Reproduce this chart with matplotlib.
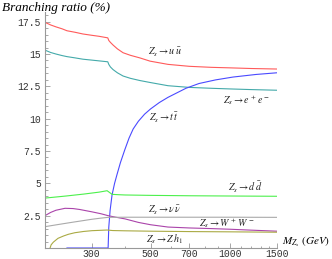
import numpy as np
import matplotlib
matplotlib.use("Agg")
import matplotlib.pyplot as plt
from matplotlib.ticker import FixedLocator, NullFormatter

plt.rcParams['mathtext.fontset'] = 'stix'

# Z_s mass (GeV) and branching ratios (%)
m_uu = [200, 210, 220, 232, 242, 260, 278, 300, 320, 345, 348, 353, 361, 375, 394, 420, 456, 498, 582, 700, 850, 1000, 1200, 1500]
br_uu = [17.45, 17.25, 17.1, 16.95, 16.8, 16.68, 16.55, 16.45, 16.37, 16.25, 16.05, 15.9, 15.7, 15.4, 15.1, 14.9, 14.7, 14.45, 14.2, 14.05, 13.97, 13.93, 13.88, 13.84]

m_ee = [200, 210, 220, 232, 242, 260, 278, 300, 320, 345, 348, 353, 361, 375, 394, 420, 456, 498, 582, 700, 850, 1000, 1200, 1500]
br_ee = [15.3, 15.12, 15.0, 14.88, 14.8, 14.7, 14.6, 14.53, 14.47, 14.4, 14.2, 14.0, 13.8, 13.55, 13.3, 13.12, 12.95, 12.8, 12.55, 12.42, 12.35, 12.3, 12.25, 12.2]

m_tt = [242, 300, 346, 348, 352, 358, 366, 374, 385, 400, 415, 430, 450, 475, 500, 540, 582, 680, 762, 880, 1024, 1250, 1500]
br_tt = [0.0, 0.0, 0.0, 1.6, 2.9, 4.1, 5.0, 5.7, 6.6, 7.6, 8.5, 9.2, 9.8, 10.35, 10.75, 11.25, 11.65, 12.35, 12.72, 13.0, 13.22, 13.42, 13.55]

m_dd = [200, 240, 280, 320, 343, 350, 358, 380, 401, 500, 700, 1000, 1500]
br_dd = [3.86, 4.02, 4.17, 4.32, 4.43, 4.3, 4.15, 4.12, 4.1, 4.07, 4.04, 4.02, 4.0]

m_nn = [200, 210, 220, 238, 255, 270, 300, 325, 346, 370, 401, 450, 500, 582, 700, 850, 1000, 1200, 1500]
br_nn = [2.5, 2.75, 2.92, 3.07, 3.05, 2.98, 2.8, 2.65, 2.5, 2.38, 2.25, 1.98, 1.8, 1.62, 1.55, 1.5, 1.45, 1.38, 1.3]

m_ww = [200, 225, 250, 275, 300, 325, 346, 400, 600, 1000, 1500]
br_ww = [1.65, 1.82, 1.97, 2.1, 2.22, 2.31, 2.37, 2.38, 2.38, 2.38, 2.37]

m_zh = [209, 211, 215, 220, 224, 235, 245, 259, 280, 301, 343, 360, 400, 500, 700, 1000, 1500]
br_zh = [0.0, 0.25, 0.45, 0.62, 0.75, 0.93, 1.06, 1.18, 1.28, 1.34, 1.39, 1.35, 1.33, 1.3, 1.27, 1.25, 1.22]

curves = [
    (m_uu, br_uu, '#ff5a5a'),
    (m_ee, br_ee, '#44aaaa'),
    (m_tt, br_tt, '#4a4aff'),
    (m_dd, br_dd, '#4cf04c'),
    (m_nn, br_nn, '#aa44aa'),
    (m_ww, br_ww, '#aaaaaa'),
    (m_zh, br_zh, '#aaaa44'),
]

labels = [
    (568, 15.16, r'$Z_s \rightarrow u\,\bar{u}$'),
    (1156, 11.45, r'$Z_s \rightarrow e^+\,e^-$'),
    (560, 10.05, r'$Z_s \rightarrow t\,\bar{t}$'),
    (1140, 4.72, r'$Z_s \rightarrow d\,\bar{d}$'),
    (568, 2.94, r'$Z_s \rightarrow \nu\,\bar{\nu}$'),
    (972, 1.93, r'$Z_s \rightarrow W^+\,W^-$'),
    (568, 0.70, r'$Z_s \rightarrow Z\,h_1$'),
]

y_ticks = [2.5, 5, 7.5, 10, 12.5, 15, 17.5]
x_ticks = [300, 500, 700, 1000, 1500]

fig = plt.figure(figsize=(3.32, 2.59), dpi=100)
ax = fig.add_axes([45 / 332, 11 / 259, 232 / 332, 236 / 259])

for m, br, c in curves:
    ax.plot(m, br, color=c, lw=0.8)

for x, y, s in labels:
    ax.text(x, y, s, fontsize=7.2, ha='center', va='center', color='#222222')

ax.set_xscale('log')
ax.set_xlim(200, 1500)
ax.set_ylim(0, 18.25)

ax.xaxis.set_major_locator(FixedLocator(x_ticks))
ax.xaxis.set_minor_locator(FixedLocator([200, 400, 600, 800, 900, 1100, 1200, 1300, 1400]))
ax.xaxis.set_minor_formatter(NullFormatter())
ax.set_xticklabels([str(t) for t in x_ticks])
ax.yaxis.set_major_locator(FixedLocator(y_ticks))
ax.yaxis.set_minor_locator(FixedLocator(np.arange(0.5, 18.1, 0.5)))
ax.set_yticklabels([('%g' % t) for t in y_ticks])

for side in ['top', 'right']:
    ax.spines[side].set_visible(False)
for side in ['left', 'bottom']:
    ax.spines[side].set_color('#999999')
    ax.spines[side].set_linewidth(0.8)

ax.tick_params(which='both', direction='in', color='#999999', width=0.6)
ax.tick_params(which='major', length=3.5, labelsize=7, labelcolor='#333333')
ax.tick_params(axis='x', which='major', pad=1)
ax.tick_params(axis='y', which='major', pad=3)
ax.tick_params(which='minor', length=1.8)
for lab in ax.get_xticklabels() + ax.get_yticklabels():
    lab.set_family('Liberation Mono')

fig.text(2 / 332, 1 - 8 / 259, 'Branching ratio (%)', fontsize=9.5, style='italic',
         family='Liberation Serif', ha='left', va='center')
fig.text(282 / 332, 1 - 242 / 259, r'$M_{Z_s}\ (GeV)$', fontsize=8, ha='left', va='center')

fig.savefig('out.png', dpi=100)
